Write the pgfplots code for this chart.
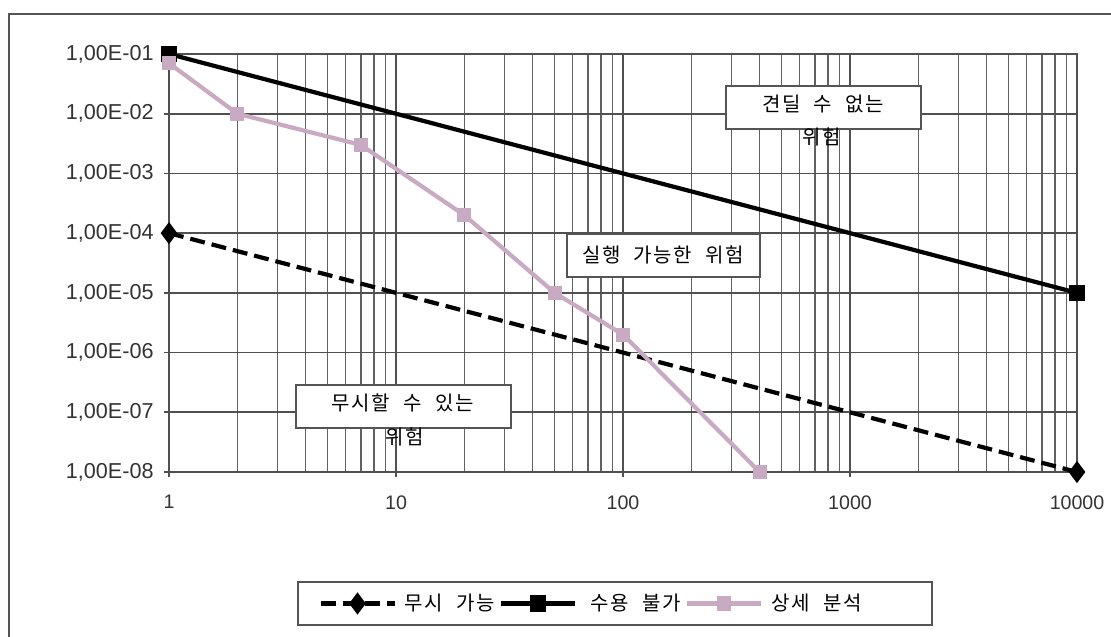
\documentclass[border=0pt]{standalone}
\usepackage{pgfplots}
\pgfplotsset{compat=1.18}
\usepackage{fontspec}
\setmainfont{Liberation Sans}
\newfontfamily\kr[WordSpace=2.2,LetterSpace=8]{Noto Sans CJK KR}
\definecolor{pinkser}{RGB}{200,170,194}
\definecolor{gridc}{RGB}{80,80,80}
\definecolor{framec}{RGB}{85,85,85}
\begin{document}
\begin{tikzpicture}
\useasboundingbox (0,0) rectangle (555.5pt,318pt);
\begin{axis}[
  at={(84.5pt,82pt)}, anchor=south west,
  scale only axis, width=454pt, height=209pt,
  xmode=log, ymode=log,
  xmin=1, xmax=10000, ymin=1e-8, ymax=1e-1,
  clip=false,
  axis line style={gridc, line width=0.8pt},
  xtick={1,10,100,1000,10000},
  xticklabels={1,10,100,1000,10000},
  minor xtick={2,3,4,5,6,7,8,9,20,30,40,50,60,70,80,90,200,300,400,500,600,700,800,900,2000,3000,4000,5000,6000,7000,8000,9000},
  ytick={1e-8,1e-7,1e-6,1e-5,1e-4,1e-3,1e-2,1e-1},
  yticklabels={{1,00E-08},{1,00E-07},{1,00E-06},{1,00E-05},{1,00E-04},{1,00E-03},{1,00E-02},{1,00E-01}},
  xmajorgrids, xminorgrids, ymajorgrids, yminorgrids=false,
  major grid style={gridc, line width=0.8pt},
  minor grid style={gridc!90, line width=0.8pt},
  tick align=outside, major tick length=2.5pt, minor tick length=0pt,
  tick style={gridc, line width=0.8pt},
  xtick pos=bottom, ytick pos=left,
  tick label style={font=\fontsize{9.8}{11}\selectfont, text=black!80},
  yticklabel style={inner sep=0pt, xshift=-5pt, font=\fontsize{10.8}{12}\selectfont},
  xticklabel style={inner sep=0pt, yshift=-9pt},
  legend style={draw=none, fill=none, at={(0.1641,-0.3146)}, anchor=west,
    inner sep=0pt, legend columns=3,
    font=\kr\fontsize{10}{12}\selectfont,
    /tikz/every odd column/.append style={column sep=4pt},
    /tikz/every even column/.append style={column sep=2pt},
    nodes={inner sep=0pt}},
  legend image code/.code={\draw[mark repeat=2,mark phase=2,#1] plot coordinates {(0pt,0pt)(18.5pt,0pt)(37pt,0pt)};},
]
\addplot[black, line width=2.1pt, dash pattern=on 7.5pt off 3.5pt, mark=diamond*, mark size=3.8pt, mark options={solid}]
  coordinates {(1,1e-4)(10000,1e-8)};
\addlegendentry{무시 가능}
\addplot[black, line width=2.1pt, mark=square*, mark size=3pt]
  coordinates {(1,1e-1)(10000,1e-5)};
\addlegendentry{\hspace{3pt}수용 불가}
\addplot[pinkser, line width=2.1pt, mark=square*, mark size=2.5pt]
  coordinates {(1,7e-2)(2,1e-2)(7,3e-3)(20,2e-4)(50,1e-5)(100,2e-6)(400,1e-8)};
\addlegendentry{상세 분석}
\end{axis}
\begin{scope}[x=0.5pt,y=-0.5pt,yshift=318pt]
  % outer frame
  \draw[framec, line width=1pt] (9,640) -- (9,14) -- (1120,14);
  % legend frame
  \draw[framec, line width=0.7pt] (298,582) rectangle (932,625);
  % text boxes
  \draw[framec, line width=0.7pt, fill=white] (726,86) rectangle (921,129);
  \node[font=\kr\fontsize{10}{12}\selectfont] at (823,104.5) {견딜 수 없는};
  \node[font=\kr\fontsize{10}{12}\selectfont] at (822,137) {위험};
  \draw[framec, line width=0.7pt, fill=white] (567,234) rectangle (760,277);
  \node[font=\kr\fontsize{10}{12}\selectfont] at (663,255) {실행 가능한 위험};
  \draw[framec, line width=0.7pt, fill=white] (296,385) rectangle (511,428);
  \node[font=\kr\fontsize{10}{12}\selectfont] at (402.5,403) {무시할 수 있는};
  \node[font=\kr\fontsize{10}{12}\selectfont] at (405,437) {위험};
\end{scope}
\end{tikzpicture}
\end{document}
